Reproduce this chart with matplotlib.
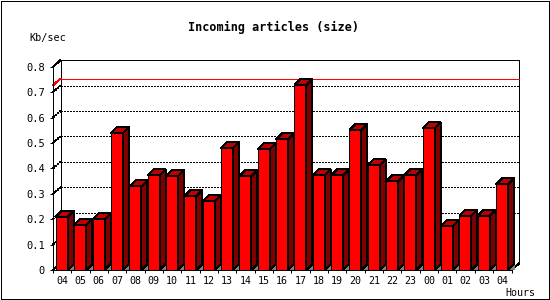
import matplotlib
matplotlib.use("Agg")
from matplotlib import pyplot as plt
from matplotlib.patches import Polygon, Rectangle

plt.rcParams['font.family'] = 'DejaVu Sans Mono'
plt.rcParams['lines.antialiased'] = False
plt.rcParams['patch.antialiased'] = False

# hours of the day
hours = ['04', '05', '06', '07', '08', '09', '10', '11', '12', '13', '14', '15',
         '16', '17', '18', '19', '20', '21', '22', '23', '00', '01', '02', '03', '04']
# incoming article size in Kb/sec
kbsec = [0.210, 0.178, 0.199, 0.540, 0.329, 0.373, 0.369, 0.290, 0.270, 0.480,
         0.369, 0.475, 0.514, 0.727, 0.373, 0.373, 0.550, 0.412, 0.349, 0.373,
         0.557, 0.174, 0.214, 0.214, 0.337]
yticks = [0, 0.1, 0.2, 0.3, 0.4, 0.5, 0.6, 0.7, 0.8]
ytick_labels = ['0', '0.1', '0.2', '0.3', '0.4', '0.5', '0.6', '0.7', '0.8']
grid_levels = [0.2, 0.3, 0.4, 0.5, 0.6, 0.7]

W, H = 550, 300
fig = plt.figure(figsize=(W / 100, H / 100), dpi=100)
ax_w, ax_h = 458.5, 203.3
ax = fig.add_axes([53 / W, 30 / H, ax_w / W, ax_h / H])
n = len(kbsec)
ymax = 0.8
ax.set_xlim(0, n)
ax.set_ylim(0, ymax)

# pixel -> data conversion
px_x = n / ax_w
px_y = ymax / ax_h
lw = 0.72

# 3d back wall (behind the bars)
wdx, wdy = 7.5 * px_x, 6.5 * px_y
ax.plot([wdx, wdx, n + wdx, n + wdx], [wdy, ymax + wdy, ymax + wdy, wdy],
        color='black', lw=lw, clip_on=False, zorder=0.5)
ax.plot([0, wdx], [ymax, ymax + wdy], color='black', lw=lw, clip_on=False, zorder=0.5)
ax.plot([0, wdx], [0, wdy], color='black', lw=lw, clip_on=False, zorder=0.5)
ax.plot([n, n + wdx], [0, wdy], color='black', lw=lw, clip_on=False, zorder=0.5)

for v in grid_levels:
    ax.plot([wdx, n + wdx], [v + wdy, v + wdy], color='black', lw=lw,
            ls=(0, (2, 2)), clip_on=False, zorder=0.5)
for v in yticks[1:]:
    ax.plot([0, wdx], [v, v + wdy], color='black', lw=lw,
            ls=(0, (2, 2)), clip_on=False, zorder=0.5)

# max line
vmax = max(kbsec)
ax.plot([wdx, n + wdx], [vmax + wdy, vmax + wdy], color='#ff0000', lw=lw,
        clip_on=False, zorder=0.6)
ax.plot([0, wdx], [vmax, vmax + wdy], color='#ff0000', lw=lw, clip_on=False, zorder=0.6)

# bars
off, bw = 3 * px_x, 12 * px_x
bdx, bdy = 6 * px_x, 6 * px_y
for i, v in enumerate(kbsec):
    x0 = i + off
    x1 = x0 + bw
    ax.add_patch(Polygon([(x1, 0), (x1 + bdx, bdy), (x1 + bdx, 0)], closed=True,
                         facecolor='#808080', edgecolor='none', clip_on=False, zorder=1))
    ax.add_patch(Rectangle((x0, 0), bw, v, facecolor='#ff0000', edgecolor='black',
                           lw=lw, clip_on=False, zorder=1))
    ax.add_patch(Polygon([(x1, 0), (x1, v), (x1 + bdx, v + bdy), (x1 + bdx, bdy)],
                         closed=True, facecolor='#800000', edgecolor='black',
                         lw=lw, clip_on=False, zorder=1))
    ax.add_patch(Polygon([(x0, v), (x0 + bdx, v + bdy), (x1 + bdx, v + bdy), (x1, v)],
                         closed=True, facecolor='#c00000', edgecolor='black',
                         lw=lw, clip_on=False, zorder=1))

# axes
for s in ['top', 'right']:
    ax.spines[s].set_visible(False)
for s in ['left', 'bottom']:
    ax.spines[s].set_linewidth(lw)
    ax.spines[s].set_zorder(5)
ax.set_facecolor('none')
ax.set_yticks(yticks)
ax.set_yticklabels(ytick_labels, fontsize=7.5)
ax.set_xticks([i + 0.5 for i in range(n)])
ax.set_xticklabels(hours, fontsize=7.2)
ax.set_xticks(range(n + 1), minor=True)
ax.tick_params(axis='x', which='major', length=0, pad=4.5)
ax.tick_params(axis='x', which='minor', length=2.2, width=lw)
ax.tick_params(axis='y', length=2.2, width=lw, pad=3.6)

fig.text(274 / W, 1 - 30.7 / H, 'Incoming articles (size)', ha='center',
         va='baseline', fontsize=8.5, fontweight='bold')
fig.text(29.3 / W, 1 - 40.7 / H, 'Kb/sec', ha='left', va='baseline', fontsize=7.3)
fig.text(505 / W, 1 - 295.5 / H, 'Hours', ha='left', va='baseline', fontsize=7.2)

fig.add_artist(Rectangle((0.5 / W, 1.5 / H), 548 / W, 298 / H, transform=fig.transFigure,
                         fill=False, edgecolor='black', lw=lw))

fig.savefig('out.png', dpi=100)
